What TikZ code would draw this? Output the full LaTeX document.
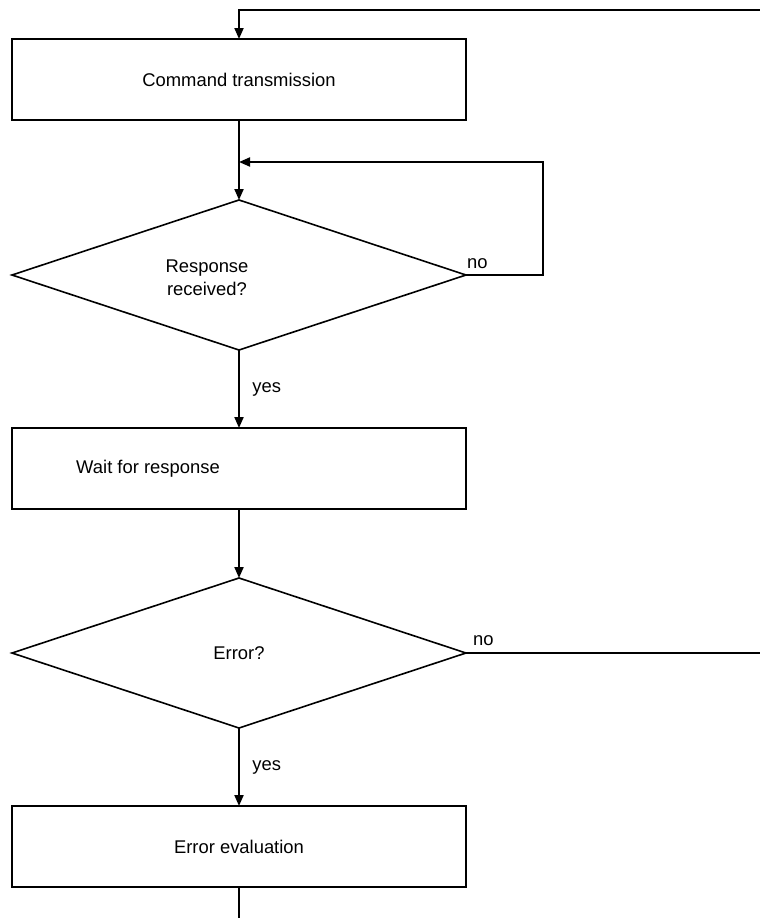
\documentclass[tikz,border=0pt]{standalone}
\usepackage{fontspec}
\setmainfont{Liberation Sans}
\usetikzlibrary{shapes, arrows.meta, positioning}
\tikzset{
    block/.style={rectangle, draw, line width=1.8pt, outer sep=0pt, minimum width=454pt, minimum height=81pt, inner sep=0pt},
    decision/.style={diamond, draw, line width=1.6pt, outer sep=0pt, minimum width=454pt, minimum height=150pt, inner sep=0pt},
    arrow/.style={line width=2pt, line join=miter, -{Triangle[length=11pt, width=9pt]}},
    line/.style={line width=2pt},
    answer/.style={anchor=base west, inner sep=0pt}
}

\begin{document}
\begin{tikzpicture}[x=1pt, y=-1pt, font=\fontsize{18.4}{23}\selectfont]
            \useasboundingbox (0,0) rectangle (760,918);
            \node[block] (cmd) at (239,79.5) {Command transmission};
            \node[decision, below=80pt of cmd] (resp) {};
            \node[align=center] at ([xshift=-32pt, yshift=-3pt]resp.center) {Response\\received?};
            \node[block, below=78pt of resp] (wait) {};
            \node at ([xshift=-91pt]wait.center) {Wait for response};
            \node[decision, below=69pt of wait] (err) {Error?};
            \node[block, below=78pt of err] (eval) {Error evaluation};
            % free ends at the picture's edges
            \coordinate (topr) at (760,10);
            \coordinate (loopr) at (543,162);
            \coordinate (bot) at (239,918);
            \draw[arrow] (topr) -- (topr -| cmd.north) -- (cmd.north);
            \draw[arrow] (cmd.south) -- (resp.north);
            \draw[arrow] (resp.east) -| (loopr) -- (loopr -| resp.north);
            \draw[arrow] (resp.south) -- node[right=9pt] {yes} (wait.north);
            \draw[arrow] (wait.south) -- (err.north);
            \draw[line] (err.east) -- (err.east -| topr);
            \draw[arrow] (err.south) -- node[right=9pt] {yes} (eval.north);
            \draw[line] (eval.south) -- (bot);
            \node[answer] at ([shift={(1,-7)}]resp.east) {no};
            \node[answer] at ([shift={(7,-8)}]err.east) {no};
        \end{tikzpicture}
\end{document}
